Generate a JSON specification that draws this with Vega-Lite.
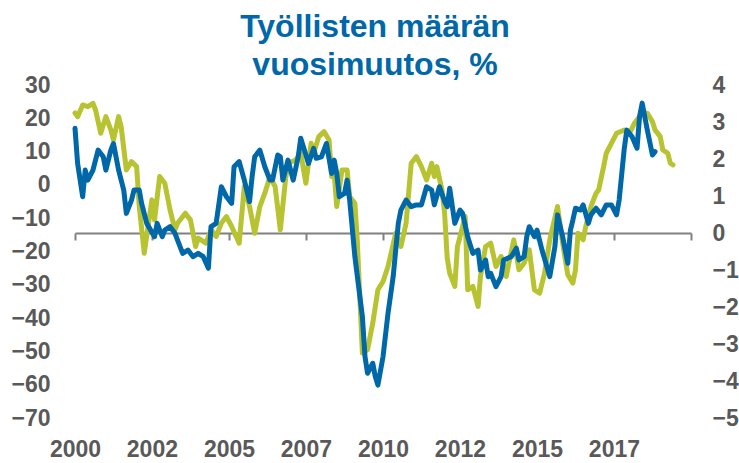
{
  "$schema": "https://vega.github.io/schema/vega-lite/v6.json",
  "width": 616,
  "height": 333,
  "autosize": "none",
  "padding": {"left": 75, "top": 85, "right": 48, "bottom": 45},
  "background": "white",
  "title": {
    "text": ["Työllisten määrän", "vuosimuutos, %"],
    "font": "Liberation Sans",
    "fontWeight": "bold",
    "fontSize": 32,
    "lineHeight": 38,
    "color": "#0068A8",
    "anchor": "middle",
    "frame": "group",
    "dx": -8,
    "offset": -8
  },
  "config": {
    "view": {"stroke": null},
    "axis": {
      "labelFont": "Liberation Sans",
      "labelFontWeight": "bold",
      "labelFontSize": 23,
      "labelColor": "#595959",
      "grid": false,
      "title": null
    }
  },
  "datasets": {
    "green": [
      {"d": "2000-01-01", "v": 21.6}, {"d": "2000-02-01", "v": 20.5}, {"d": "2000-04-01", "v": 24}, {"d": "2000-06-01", "v": 23.5},
      {"d": "2000-08-01", "v": 24.5}, {"d": "2000-09-01", "v": 22.5}, {"d": "2000-11-01", "v": 15.5}, {"d": "2001-01-01", "v": 20.5},
      {"d": "2001-03-01", "v": 16.5}, {"d": "2001-04-01", "v": 13.5}, {"d": "2001-06-01", "v": 20.5}, {"d": "2001-07-01", "v": 17.5},
      {"d": "2001-09-01", "v": 4.5}, {"d": "2001-11-01", "v": 7}, {"d": "2002-01-01", "v": 5.5}, {"d": "2002-02-01", "v": -6.5},
      {"d": "2002-04-01", "v": -20.5}, {"d": "2002-07-01", "v": -4.5}, {"d": "2002-08-01", "v": -10.5}, {"d": "2002-10-01", "v": 2.5},
      {"d": "2002-12-01", "v": 0.5}, {"d": "2003-02-01", "v": -7.5}, {"d": "2003-04-01", "v": -13.5}, {"d": "2003-05-01", "v": -11.5},
      {"d": "2003-08-01", "v": -8.5}, {"d": "2003-10-01", "v": -10.5}, {"d": "2003-12-01", "v": -18.5}, {"d": "2004-01-01", "v": -16},
      {"d": "2004-04-01", "v": -17.5}, {"d": "2004-06-01", "v": -13.5}, {"d": "2004-08-01", "v": -15.5}, {"d": "2004-10-01", "v": -11.5},
      {"d": "2004-12-01", "v": -9.5}, {"d": "2005-02-01", "v": -12.5}, {"d": "2005-05-01", "v": -17.5}, {"d": "2005-07-01", "v": -0.5},
      {"d": "2005-09-01", "v": -6.5}, {"d": "2005-11-01", "v": -14.5}, {"d": "2006-01-01", "v": -6.5}, {"d": "2006-03-01", "v": -2.5},
      {"d": "2006-05-01", "v": 2.5}, {"d": "2006-07-01", "v": -0.5}, {"d": "2006-09-01", "v": -13.5}, {"d": "2006-11-01", "v": 1.5},
      {"d": "2006-12-01", "v": 6.5}, {"d": "2007-03-01", "v": 7.5}, {"d": "2007-05-01", "v": 9.5}, {"d": "2007-07-01", "v": 0.5},
      {"d": "2007-09-01", "v": 12.5}, {"d": "2007-10-01", "v": 9.5}, {"d": "2007-12-01", "v": 14.5}, {"d": "2008-02-01", "v": 16},
      {"d": "2008-04-01", "v": 13.5}, {"d": "2008-05-01", "v": 2.5}, {"d": "2008-06-01", "v": 3.5}, {"d": "2008-07-01", "v": -6.5},
      {"d": "2008-09-01", "v": 4.5}, {"d": "2008-11-01", "v": 4.5}, {"d": "2008-12-01", "v": -3.5}, {"d": "2009-02-01", "v": -5.5},
      {"d": "2009-03-01", "v": -16.5}, {"d": "2009-05-01", "v": -50.5}, {"d": "2009-07-01", "v": -49.5}, {"d": "2009-09-01", "v": -41.5},
      {"d": "2009-11-01", "v": -31.5}, {"d": "2010-01-01", "v": -29}, {"d": "2010-03-01", "v": -24.5}, {"d": "2010-06-01", "v": -14.5},
      {"d": "2010-08-01", "v": -18.5}, {"d": "2010-10-01", "v": -11.5}, {"d": "2010-12-01", "v": 6.5}, {"d": "2011-02-01", "v": 8.5},
      {"d": "2011-04-01", "v": 5.5}, {"d": "2011-06-01", "v": 1.5}, {"d": "2011-08-01", "v": 6.5}, {"d": "2011-09-01", "v": 2.5},
      {"d": "2011-10-01", "v": 5.5}, {"d": "2011-12-01", "v": -1.5}, {"d": "2012-01-01", "v": -8.5}, {"d": "2012-02-01", "v": -22},
      {"d": "2012-03-01", "v": -26.5}, {"d": "2012-05-01", "v": -30.5}, {"d": "2012-06-01", "v": -18.5}, {"d": "2012-08-01", "v": -12.5},
      {"d": "2012-09-01", "v": -9.5}, {"d": "2012-10-01", "v": -31.5}, {"d": "2012-12-01", "v": -30.5}, {"d": "2013-02-01", "v": -36.5},
      {"d": "2013-03-01", "v": -27.5}, {"d": "2013-05-01", "v": -18.5}, {"d": "2013-07-01", "v": -17.5}, {"d": "2013-09-01", "v": -24.5},
      {"d": "2013-11-01", "v": -21.5}, {"d": "2014-01-01", "v": -27.5}, {"d": "2014-02-01", "v": -23.5}, {"d": "2014-04-01", "v": -16.5},
      {"d": "2014-06-01", "v": -25.5}, {"d": "2014-08-01", "v": -23.5}, {"d": "2014-10-01", "v": -19.5}, {"d": "2014-12-01", "v": -31.5},
      {"d": "2015-02-01", "v": -32.5}, {"d": "2015-04-01", "v": -26.5}, {"d": "2015-06-01", "v": -16.5}, {"d": "2015-09-01", "v": -6.5},
      {"d": "2015-11-01", "v": -17.5}, {"d": "2016-01-01", "v": -27}, {"d": "2016-03-01", "v": -29.5}, {"d": "2016-04-01", "v": -25.5},
      {"d": "2016-05-01", "v": -14.5}, {"d": "2016-07-01", "v": -16.5}, {"d": "2016-08-01", "v": -12.5}, {"d": "2016-10-01", "v": -6.5},
      {"d": "2016-12-01", "v": -2.5}, {"d": "2017-01-01", "v": -1.5}, {"d": "2017-03-01", "v": 5.5}, {"d": "2017-04-01", "v": 9.5},
      {"d": "2017-06-01", "v": 12.5}, {"d": "2017-08-01", "v": 15.5}, {"d": "2017-11-01", "v": 16.5}, {"d": "2018-01-01", "v": 15.5},
      {"d": "2018-03-01", "v": 18.5}, {"d": "2018-05-01", "v": 20.5}, {"d": "2018-06-01", "v": 21.5}, {"d": "2018-08-01", "v": 21.5},
      {"d": "2018-10-01", "v": 19}, {"d": "2018-11-01", "v": 16.5}, {"d": "2019-01-01", "v": 14.5}, {"d": "2019-02-01", "v": 10.5},
      {"d": "2019-04-01", "v": 9.5}, {"d": "2019-05-01", "v": 6.5}, {"d": "2019-06-01", "v": 6}
    ],
    "blue": [
      {"d": "2000-01-01", "v": 2.83}, {"d": "2000-02-01", "v": 1.88}, {"d": "2000-04-01", "v": 0.98}, {"d": "2000-05-01", "v": 1.7},
      {"d": "2000-06-01", "v": 1.43}, {"d": "2000-08-01", "v": 1.7}, {"d": "2000-10-01", "v": 2.24}, {"d": "2000-12-01", "v": 2.06},
      {"d": "2001-01-01", "v": 1.7}, {"d": "2001-03-01", "v": 2.24}, {"d": "2001-04-01", "v": 2.42}, {"d": "2001-06-01", "v": 1.7},
      {"d": "2001-08-01", "v": 1.16}, {"d": "2001-09-01", "v": 0.53}, {"d": "2001-11-01", "v": 0.89}, {"d": "2001-12-01", "v": 1.16},
      {"d": "2002-02-01", "v": 1.16}, {"d": "2002-03-01", "v": 0.8}, {"d": "2002-05-01", "v": 0.26}, {"d": "2002-08-01", "v": -0.1},
      {"d": "2002-09-01", "v": 0.26}, {"d": "2002-11-01", "v": -0.1}, {"d": "2002-12-01", "v": 0.08}, {"d": "2003-02-01", "v": 0.17},
      {"d": "2003-04-01", "v": -0.01}, {"d": "2003-05-01", "v": -0.19}, {"d": "2003-07-01", "v": -0.55}, {"d": "2003-09-01", "v": -0.46},
      {"d": "2003-11-01", "v": -0.64}, {"d": "2004-01-01", "v": -0.55}, {"d": "2004-03-01", "v": -0.64}, {"d": "2004-05-01", "v": -0.95},
      {"d": "2004-06-01", "v": 0.17}, {"d": "2004-08-01", "v": 0.26}, {"d": "2004-10-01", "v": 1.25}, {"d": "2004-12-01", "v": 0.98},
      {"d": "2005-02-01", "v": 0.8}, {"d": "2005-03-01", "v": 1.79}, {"d": "2005-05-01", "v": 1.93}, {"d": "2005-07-01", "v": 1.43},
      {"d": "2005-09-01", "v": 0.85}, {"d": "2005-10-01", "v": 1.52}, {"d": "2005-11-01", "v": 2.06}, {"d": "2006-01-01", "v": 2.24},
      {"d": "2006-03-01", "v": 1.79}, {"d": "2006-05-01", "v": 1.43}, {"d": "2006-06-01", "v": 1.43}, {"d": "2006-08-01", "v": 2.11},
      {"d": "2006-09-01", "v": 2.06}, {"d": "2006-10-01", "v": 1.43}, {"d": "2006-12-01", "v": 1.97}, {"d": "2007-02-01", "v": 1.43},
      {"d": "2007-04-01", "v": 2.06}, {"d": "2007-05-01", "v": 2.56}, {"d": "2007-06-01", "v": 2.33}, {"d": "2007-08-01", "v": 1.88},
      {"d": "2007-10-01", "v": 2.29}, {"d": "2007-11-01", "v": 2.02}, {"d": "2008-01-01", "v": 2.06}, {"d": "2008-03-01", "v": 2.42},
      {"d": "2008-05-01", "v": 1.61}, {"d": "2008-06-01", "v": 1.97}, {"d": "2008-07-01", "v": 1.61}, {"d": "2008-08-01", "v": 0.98},
      {"d": "2008-10-01", "v": 1.07}, {"d": "2008-11-01", "v": 1.43}, {"d": "2008-12-01", "v": 0.89}, {"d": "2009-02-01", "v": -0.64},
      {"d": "2009-05-01", "v": -2.26}, {"d": "2009-06-01", "v": -3.34}, {"d": "2009-07-01", "v": -3.79}, {"d": "2009-09-01", "v": -3.52},
      {"d": "2009-10-01", "v": -3.88}, {"d": "2009-11-01", "v": -4.11}, {"d": "2010-01-01", "v": -3.34}, {"d": "2010-03-01", "v": -2.17},
      {"d": "2010-05-01", "v": -1.18}, {"d": "2010-07-01", "v": 0.26}, {"d": "2010-08-01", "v": 0.62}, {"d": "2010-10-01", "v": 0.89},
      {"d": "2010-12-01", "v": 0.71}, {"d": "2011-02-01", "v": 0.76}, {"d": "2011-04-01", "v": 0.76}, {"d": "2011-06-01", "v": 1.25},
      {"d": "2011-08-01", "v": 1.16}, {"d": "2011-09-01", "v": 0.76}, {"d": "2011-11-01", "v": 1.25}, {"d": "2012-01-01", "v": 0.85},
      {"d": "2012-02-01", "v": 0.71}, {"d": "2012-03-01", "v": 1.21}, {"d": "2012-05-01", "v": 0.26}, {"d": "2012-07-01", "v": 0.62},
      {"d": "2012-08-01", "v": 0.53}, {"d": "2012-10-01", "v": -0.1}, {"d": "2012-12-01", "v": -0.55}, {"d": "2013-02-01", "v": -0.46},
      {"d": "2013-03-01", "v": -1.0}, {"d": "2013-05-01", "v": -0.73}, {"d": "2013-06-01", "v": -1.18}, {"d": "2013-07-01", "v": -1.09},
      {"d": "2013-09-01", "v": -1.45}, {"d": "2013-11-01", "v": -1.18}, {"d": "2013-12-01", "v": -0.73}, {"d": "2014-03-01", "v": -0.64},
      {"d": "2014-05-01", "v": -0.41}, {"d": "2014-06-01", "v": -0.73}, {"d": "2014-08-01", "v": -0.64}, {"d": "2014-09-01", "v": -0.1},
      {"d": "2014-10-01", "v": 0.17}, {"d": "2014-12-01", "v": -0.1}, {"d": "2015-01-01", "v": 0.08}, {"d": "2015-03-01", "v": -0.46},
      {"d": "2015-06-01", "v": -1.18}, {"d": "2015-08-01", "v": -0.37}, {"d": "2015-09-01", "v": 0.49}, {"d": "2015-11-01", "v": -0.1},
      {"d": "2016-01-01", "v": -0.82}, {"d": "2016-02-01", "v": 0.08}, {"d": "2016-03-01", "v": 0.35}, {"d": "2016-04-01", "v": 0.67},
      {"d": "2016-06-01", "v": 0.62}, {"d": "2016-07-01", "v": 0.76}, {"d": "2016-09-01", "v": 0.26}, {"d": "2016-10-01", "v": 0.49},
      {"d": "2016-12-01", "v": 0.67}, {"d": "2017-02-01", "v": 0.49}, {"d": "2017-04-01", "v": 0.76}, {"d": "2017-06-01", "v": 0.76},
      {"d": "2017-08-01", "v": 0.49}, {"d": "2017-09-01", "v": 0.89}, {"d": "2017-11-01", "v": 2.29}, {"d": "2017-12-01", "v": 2.78},
      {"d": "2018-02-01", "v": 2.6}, {"d": "2018-04-01", "v": 2.29}, {"d": "2018-05-01", "v": 3.14}, {"d": "2018-06-01", "v": 3.51},
      {"d": "2018-08-01", "v": 2.78}, {"d": "2018-10-01", "v": 2.11}, {"d": "2018-11-01", "v": 2.2}
    ]
  },
  "resolve": {"scale": {"y": "independent"}, "axis": {"x": "independent"}},
  "layer": [
    {
      "data": {"name": "green"},
      "mark": {"type": "line", "color": "#B7C330", "strokeWidth": 5, "strokeJoin": "round", "strokeCap": "round", "clip": false},
      "encoding": {
        "x": {
          "field": "d", "type": "temporal",
          "scale": {"type": "utc", "domain": [{"year": 2000, "month": 1, "date": 1, "utc": true}, {"year": 2020, "month": 1, "date": 1, "utc": true}]},
          "axis": {
            "orient": "bottom",
            "values": [
              {"year": 2000, "month": 1, "date": 1, "utc": true}, {"year": 2002, "month": 7, "date": 1, "utc": true},
              {"year": 2005, "month": 1, "date": 1, "utc": true}, {"year": 2007, "month": 7, "date": 1, "utc": true},
              {"year": 2010, "month": 1, "date": 1, "utc": true}, {"year": 2012, "month": 7, "date": 1, "utc": true},
              {"year": 2015, "month": 1, "date": 1, "utc": true}, {"year": 2017, "month": 7, "date": 1, "utc": true}
            ],
            "labelExpr": "utcFormat(datum.value, '%Y')",
            "domain": false, "ticks": false, "labelPadding": 20,
            "labelFlush": false, "labelOverlap": false
          }
        },
        "y": {
          "field": "v", "type": "quantitative",
          "scale": {"domain": [-70, 30], "nice": false, "zero": false},
          "axis": {"orient": "left", "values": [-70, -60, -50, -40, -30, -20, -10, 0, 10, 20, 30], "domain": false, "ticks": false, "labelPadding": 25}
        }
      }
    },
    {
      "data": {"name": "blue"},
      "mark": {"type": "line", "color": "#0068A8", "strokeWidth": 5, "strokeJoin": "round", "strokeCap": "round", "clip": false},
      "encoding": {
        "x": {
          "field": "d", "type": "temporal",
          "axis": {
            "orient": "bottom",
            "offset": -185,
            "values": [
              {"year": 2000, "month": 1, "date": 1, "utc": true}, {"year": 2002, "month": 7, "date": 1, "utc": true},
              {"year": 2005, "month": 1, "date": 1, "utc": true}, {"year": 2007, "month": 7, "date": 1, "utc": true},
              {"year": 2010, "month": 1, "date": 1, "utc": true}, {"year": 2012, "month": 7, "date": 1, "utc": true},
              {"year": 2015, "month": 1, "date": 1, "utc": true}, {"year": 2017, "month": 7, "date": 1, "utc": true},
              {"year": 2020, "month": 1, "date": 1, "utc": true}
            ],
            "labels": false,
            "domain": true, "domainColor": "#808080", "domainWidth": 2,
            "ticks": true, "tickColor": "#808080", "tickWidth": 2, "tickSize": 7
          }
        },
        "y": {
          "field": "v", "type": "quantitative",
          "scale": {"domain": [-5, 4], "nice": false, "zero": false},
          "axis": {"orient": "right", "values": [-5, -4, -3, -2, -1, 0, 1, 2, 3, 4], "domain": false, "ticks": false, "labelPadding": 21}
        }
      }
    }
  ]
}
